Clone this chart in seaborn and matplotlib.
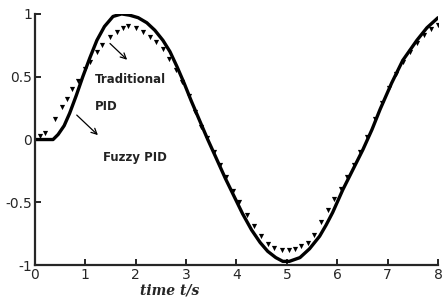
import pandas as pd
import seaborn as sns
import matplotlib.pyplot as plt

# values
t_fuzzy = [0, 0.2, 0.36, 0.46, 0.58, 0.69, 0.82, 0.95, 1.09, 1.23, 1.38, 1.55, 1.72, 1.88, 2.05, 2.22, 2.38,
           2.54, 2.68, 2.82, 2.96, 3.1, 3.27, 3.43, 3.6, 3.78, 3.95, 4.12, 4.3, 4.47, 4.62, 4.78, 4.92, 5.05,
           5.26, 5.45, 5.65, 5.78, 5.91, 6.11, 6.31, 6.51, 6.69, 6.85, 7.08, 7.3, 7.58, 7.78, 8.0]
y_fuzzy = [0, 0, 0, 0.04, 0.11, 0.21, 0.35, 0.5, 0.65, 0.79, 0.9, 0.98, 1.0, 0.99, 0.97, 0.93, 0.87,
           0.79, 0.7, 0.58, 0.45, 0.31, 0.15, 0.0, -0.15, -0.31, -0.45, -0.59, -0.72, -0.82, -0.89, -0.94, -0.97, -0.97,
           -0.94, -0.87, -0.77, -0.68, -0.58, -0.4, -0.24, -0.08, 0.08, 0.24, 0.45, 0.63, 0.79, 0.89, 0.97]

t_trad = [0.1, 0.2, 0.4, 0.54, 0.63, 0.73, 0.85, 1.0, 1.09, 1.23, 1.33, 1.49, 1.63, 1.75, 1.85, 2.0, 2.14,
          2.28, 2.41, 2.54, 2.67, 2.8, 2.92, 3.05, 3.18, 3.3, 3.41, 3.55, 3.68, 3.8, 3.93, 4.06, 4.2, 4.34,
          4.48, 4.62, 4.75, 4.9, 5.04, 5.16, 5.28, 5.41, 5.54, 5.67, 5.81, 5.94, 6.07, 6.2, 6.33, 6.46,
          6.6, 6.74, 6.88, 7.02, 7.16, 7.3, 7.44, 7.58, 7.72, 7.86, 8.0]
y_trad = [0.03, 0.05, 0.16, 0.26, 0.32, 0.4, 0.47, 0.56, 0.62, 0.7, 0.75, 0.82, 0.86, 0.89, 0.9, 0.89, 0.86,
          0.82, 0.78, 0.72, 0.64, 0.55, 0.46, 0.35, 0.22, 0.1, 0.01, -0.1, -0.2, -0.3, -0.41, -0.5, -0.6, -0.69,
          -0.77, -0.83, -0.86, -0.88, -0.88, -0.87, -0.85, -0.82, -0.76, -0.66, -0.56, -0.47, -0.39, -0.3, -0.2, -0.1,
          0.02, 0.16, 0.29, 0.41, 0.52, 0.62, 0.7, 0.77, 0.83, 0.88, 0.91]

x_ticks = [0, 1, 2, 3, 4, 5, 6, 7, 8]
y_ticks = [-1, -0.5, 0, 0.5, 1]
y_tick_labels = ["-1", "-0.5", "0", "0.5", "1"]

fuzzy = pd.DataFrame({"t": t_fuzzy, "y": y_fuzzy})
trad = pd.DataFrame({"t": t_trad, "y": y_trad})

sns.set_style("ticks")
plt.rcParams["font.family"] = ["DejaVu Sans"]
plt.rcParams["xtick.direction"] = "in"
plt.rcParams["ytick.direction"] = "in"

fig = plt.figure(figsize=(4.42, 3.03), dpi=100)
ax = fig.add_axes([0.079, 0.125, 0.912, 0.829])

sns.lineplot(x="t", y="y", data=fuzzy, color="black", linewidth=2.4, ax=ax)
sns.scatterplot(x="t", y="y", data=trad, color="black", marker="v", s=14, linewidth=0, ax=ax)

ax.set_xlim(0, 8)
ax.set_ylim(-1, 1)
ax.set_xticks(x_ticks)
ax.set_yticks(y_ticks)
ax.set_yticklabels(y_tick_labels)
ax.tick_params(length=4, width=1.2, labelsize=10, pad=2, color="black")
for s in ["left", "bottom"]:
    ax.spines[s].set_linewidth(1.6)
sns.despine(ax=ax)

ax.set_xlabel("time t/s", fontstyle="italic", fontweight="bold", fontsize=10, family="DejaVu Serif")
ax.xaxis.set_label_coords(0.335, -0.075)
ax.set_ylabel("")

ax.text(1.19, 0.48, "Traditional", fontsize=8.5, fontweight="bold", color="#222222", va="center")
ax.text(1.19, 0.26, "PID", fontsize=8.5, fontweight="bold", color="#222222", va="center")
ax.text(1.35, -0.14, "Fuzzy PID", fontsize=8.5, fontweight="bold", color="#222222", va="center")
ax.annotate("", xy=(1.87, 0.62), xytext=(1.45, 0.78),
            arrowprops=dict(arrowstyle="->", color="black", lw=0.9))
ax.annotate("", xy=(1.29, 0.02), xytext=(0.79, 0.21),
            arrowprops=dict(arrowstyle="->", color="black", lw=0.9))

fig.savefig("out.png", dpi=100)
